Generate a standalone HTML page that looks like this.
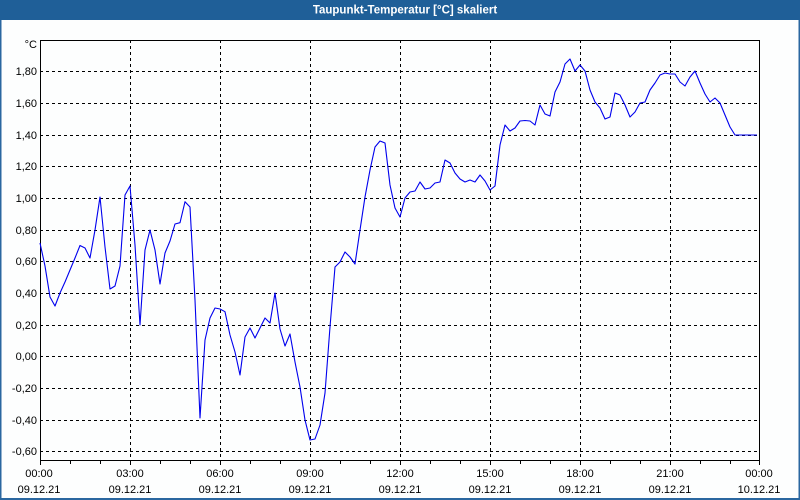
<!DOCTYPE html>
<html><head><meta charset="utf-8"><style>
html,body{margin:0;padding:0;background:#fff;}
svg{display:block;font-family:"Liberation Sans","DejaVu Sans",sans-serif;}
</style></head><body>
<svg width="800" height="500" viewBox="0 0 800 500" xmlns="http://www.w3.org/2000/svg">
<rect x="0" y="0" width="800" height="500" fill="#fdfefe"/>
<rect x="0" y="0" width="800" height="20" fill="#1f5f98"/>
<rect x="0" y="20" width="1.5" height="480" fill="#2a67a0"/>
<rect x="798.5" y="20" width="1.5" height="480" fill="#2a67a0"/>
<rect x="0" y="498" width="800" height="2" fill="#2a67a0"/>
<text x="405" y="13.5" text-anchor="middle" font-size="11.5" font-weight="bold" fill="#ffffff">Taupunkt-Temperatur [°C] skaliert</text>

<g stroke="#000" stroke-width="1" stroke-dasharray="3,3" shape-rendering="crispEdges">
<line x1="40" y1="71.5" x2="760" y2="71.5"/>
<line x1="40" y1="103.5" x2="760" y2="103.5"/>
<line x1="40" y1="135.5" x2="760" y2="135.5"/>
<line x1="40" y1="166.5" x2="760" y2="166.5"/>
<line x1="40" y1="198.5" x2="760" y2="198.5"/>
<line x1="40" y1="230.5" x2="760" y2="230.5"/>
<line x1="40" y1="261.5" x2="760" y2="261.5"/>
<line x1="40" y1="293.5" x2="760" y2="293.5"/>
<line x1="40" y1="325.5" x2="760" y2="325.5"/>
<line x1="40" y1="356.5" x2="760" y2="356.5"/>
<line x1="40" y1="388.5" x2="760" y2="388.5"/>
<line x1="40" y1="420.5" x2="760" y2="420.5"/>
<line x1="40" y1="451.5" x2="760" y2="451.5"/>
<line x1="130.5" y1="40" x2="130.5" y2="460"/>
<line x1="220.5" y1="40" x2="220.5" y2="460"/>
<line x1="310.5" y1="40" x2="310.5" y2="460"/>
<line x1="400.5" y1="40" x2="400.5" y2="460"/>
<line x1="490.5" y1="40" x2="490.5" y2="460"/>
<line x1="580.5" y1="40" x2="580.5" y2="460"/>
<line x1="670.5" y1="40" x2="670.5" y2="460"/>
</g>

<g stroke="#000" stroke-width="1" fill="none" shape-rendering="crispEdges">
<path d="M40.5 40.5 H759.5 V460.5 H40.5 Z" stroke-width="1.3"/>
<path d="M40.5 460 v5 M70.5 460 v4 M100.5 460 v4 M130.5 460 v5 M160.5 460 v4 M190.5 460 v4 M220.5 460 v5 M250.5 460 v4 M280.5 460 v4 M310.5 460 v5 M340.5 460 v4 M370.5 460 v4 M400.5 460 v5 M430.5 460 v4 M460.5 460 v4 M490.5 460 v5 M520.5 460 v4 M550.5 460 v4 M580.5 460 v5 M610.5 460 v4 M640.5 460 v4 M670.5 460 v5 M700.5 460 v4 M730.5 460 v4 M759.5 460 v5"/>
</g>

<g font-size="11" fill="#000" text-anchor="end">
<text x="37" y="48">°C</text>
<text x="37" y="75">1,80</text>
<text x="37" y="107">1,60</text>
<text x="37" y="139">1,40</text>
<text x="37" y="170">1,20</text>
<text x="37" y="202">1,00</text>
<text x="37" y="234">0,80</text>
<text x="37" y="265">0,60</text>
<text x="37" y="297">0,40</text>
<text x="37" y="329">0,20</text>
<text x="37" y="360">0,00</text>
<text x="37" y="392">-0,20</text>
<text x="37" y="424">-0,40</text>
<text x="37" y="455">-0,60</text>
</g>

<g font-size="11" fill="#000" text-anchor="middle">
<text x="39" y="477">00:00</text><text x="39" y="493">09.12.21</text>
<text x="130" y="477">03:00</text><text x="130" y="493">09.12.21</text>
<text x="220" y="477">06:00</text><text x="220" y="493">09.12.21</text>
<text x="310" y="477">09:00</text><text x="310" y="493">09.12.21</text>
<text x="400" y="477">12:00</text><text x="400" y="493">09.12.21</text>
<text x="490" y="477">15:00</text><text x="490" y="493">09.12.21</text>
<text x="580" y="477">18:00</text><text x="580" y="493">09.12.21</text>
<text x="670" y="477">21:00</text><text x="670" y="493">09.12.21</text>
<text x="759" y="477">00:00</text><text x="759" y="493">10.12.21</text>
</g>

<polyline fill="none" stroke="#0000ee" stroke-width="1.1" stroke-linejoin="round" points="
40,243 45,266 50,297 55,306 60,293 65,282 70,270 75,258 80,245.5 85,248 90,258 95,230 100,197
105,247 110,289 115,286 120,266 125,195 130,186 135,245 140,325 145,250 150,230 155,250 160,284
165,253 170,241 175,224 180,222.7 185,201.7 190,207 195,300 200,418 205,340 210,318 215,308 220,309
225,311.7 230,335 235,352 240,375 245,337 250,328 255,338 260,328 265,318 270,323 275,293 280,329
285,346 290,334 295,362 300,387 305,420 310,440 315,439 320,425 325,393 330,327 335,267 340,262
345,252 350,257 355,264 360,230 365,197 370,170 375,147 380,141 385,143 390,185 395,208 400,217
405,198 410,192 415,191 420,182 425,189 430,188 435,183 440,182 445,160 450,163 455,173 460,179
465,182 470,180 475,182 480,175 485,181 490,190 495,186 500,145 505,125 510,131 515,128 520,121
525,120.5 530,121 535,125 540,105 545,114 550,116 555,92 560,82 565,64 570,59 575,71 580,65
585,71 590,90 595,102 600,108 605,119 610,117 615,93 620,95 625,105 630,117 635,112 640,103
645,102 650,90 655,83 660,75 665,73 670,74 675,74 680,82 685,86 690,77 695,71 700,83 705,94
710,102 715,98 720,103 725,115 730,127 735,135 757,135"/>
</svg>
</body></html>
